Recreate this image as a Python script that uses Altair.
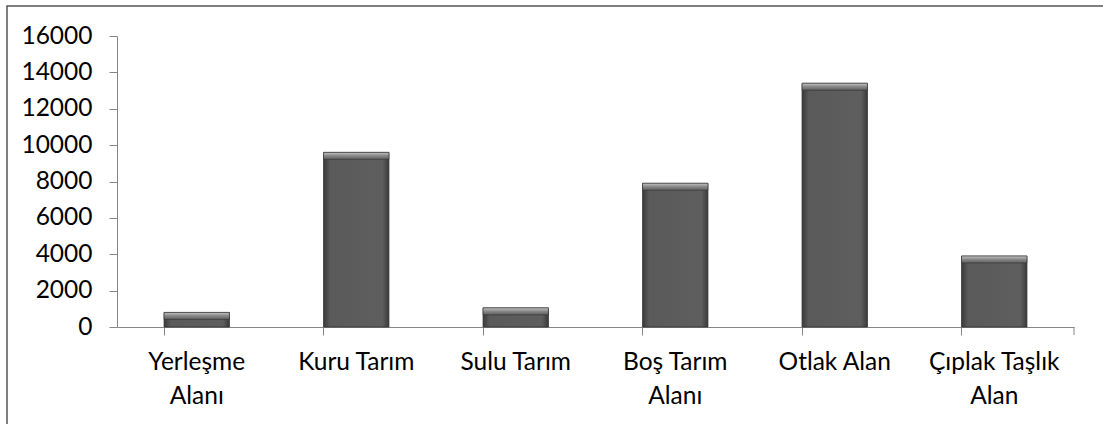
import altair as alt
import pandas as pd
import json

categories = ["Yerleşme Alanı", "Kuru Tarım", "Sulu Tarım", "Boş Tarım Alanı", "Otlak Alan", "Çıplak Taşlık Alan"]
values = [800, 9600, 1050, 7900, 13400, 3900]
label_lines = [["Yerleşme", "Alanı"], ["Kuru Tarım"], ["Sulu Tarım"], ["Boş Tarım", "Alanı"], ["Otlak Alan"], ["Çıplak Taşlık", "Alan"]]
y_ticks = [0, 2000, 4000, 6000, 8000, 10000, 12000, 14000, 16000]

df = pd.DataFrame({"cat": categories, "val": values})

mapping = {c: l for c, l in zip(categories, label_lines)}
label_expr = json.dumps(mapping, ensure_ascii=False) + "[datum.label]"

FONT = "Lato"
FS = 24.5
W, H = 957, 291

x_axis = alt.Axis(labelExpr=label_expr, labelAngle=0, labelFont=FONT, labelFontSize=FS,
                  labelColor="#000000", labelLineHeight=34, labelPadding=15,
                  labelOverlap=False, labelLimit=300,
                  domainColor="#868686", tickColor="#868686", tickSize=8,
                  bandPosition=0)
y_axis = alt.Axis(values=y_ticks, format="d", grid=False, labelFont=FONT,
                  labelFontSize=FS, labelColor="#000000", labelPadding=17,
                  labelOverlap=False, labelFlush=False,
                  domainColor="#868686", tickColor="#868686", tickSize=8)

x_scale = alt.Scale(paddingInner=0.59, paddingOuter=0.295)
y_scale = alt.Scale(domain=[0, 16000], nice=False)

bars = alt.Chart(df).mark_bar(
    color=alt.Gradient(gradient="linear", x1=0, x2=1, y1=0, y2=0,
                       stops=[alt.GradientStop(color="#3a3a3a", offset=0),
                              alt.GradientStop(color="#5a5a5a", offset=0.1),
                              alt.GradientStop(color="#5e5e5e", offset=0.9),
                              alt.GradientStop(color="#3a3a3a", offset=1)]),
    stroke="#333333", strokeWidth=0.8
).encode(
    x=alt.X("cat:N", sort=categories, title=None, scale=x_scale, axis=x_axis),
    y=alt.Y("val:Q", scale=y_scale, title=None, axis=y_axis),
)

bevel = alt.Chart(df).transform_calculate(
    top0="datum.val - 380"
).mark_bar(
    color=alt.Gradient(gradient="linear", x1=0, x2=0, y1=0, y2=1,
                       stops=[alt.GradientStop(color="#c4c4c4", offset=0),
                              alt.GradientStop(color="#8c8c8c", offset=0.45),
                              alt.GradientStop(color="#5e5e5e", offset=1)]),
    stroke="#333333", strokeWidth=0.6
).encode(
    x=alt.X("cat:N", sort=categories, title=None, scale=x_scale, axis=x_axis),
    y=alt.Y("val:Q", scale=y_scale, title=None, axis=y_axis),
    y2="top0:Q",
)

end_tick = alt.Chart(df).mark_rule(color="#868686", strokeWidth=1).encode(
    x=alt.value(W), y=alt.value(H), y2=alt.value(H + 8)
).transform_filter("datum.cat == 'Yerleşme Alanı'")

border = alt.Chart(df).mark_rect(fill=None, stroke="#555555", strokeWidth=1.5, clip=False).encode(
    x=alt.value(-110), x2=alt.value(W + 40), y=alt.value(-30), y2=alt.value(H + 120)
).transform_filter("datum.cat == 'Yerleşme Alanı'")

chart = alt.layer(border, bars, bevel, end_tick).properties(
    width=W, height=H,
    autosize=alt.AutoSizeParams(type="none"),
    padding={"left": 117, "top": 36, "right": 29, "bottom": 97},
    background="white",
).configure_view(stroke=None)

chart.save("out.html", embed_options={"renderer": "svg", "actions": False})
